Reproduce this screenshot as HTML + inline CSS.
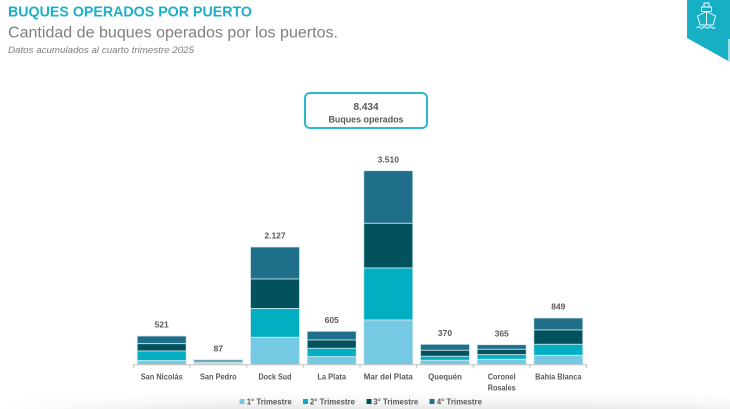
<!DOCTYPE html>
<html><head><meta charset="utf-8"><style>
html,body{margin:0;padding:0;background:#fff;}
svg{display:block;}
text{font-family:"Liberation Sans",sans-serif;}
</style></head><body>
<svg width="730" height="409" viewBox="0 0 730 409" xmlns="http://www.w3.org/2000/svg">
<defs>
<linearGradient id="sh" x1="0" y1="0" x2="0" y2="1">
<stop offset="0" stop-color="#ffffff" stop-opacity="0"/>
<stop offset="1" stop-color="#e8e8e8" stop-opacity="1"/>
</linearGradient>
<linearGradient id="shm" x1="0" y1="0" x2="1" y2="0">
<stop offset="0" stop-color="#fff" stop-opacity="0"/>
<stop offset="0.3" stop-color="#fff" stop-opacity="1"/>
<stop offset="0.8" stop-color="#fff" stop-opacity="1"/>
<stop offset="1" stop-color="#fff" stop-opacity="0.6"/>
</linearGradient>
<mask id="m"><rect x="0" y="388" width="730" height="21" fill="url(#shm)"/></mask>
</defs>
<rect x="0" y="0" width="730" height="409" fill="#fff"/>
<rect x="0" y="388" width="730" height="21" fill="url(#sh)" mask="url(#m)"/>

<!-- header -->
<text x="8" y="16.7" font-size="15" font-weight="bold" fill="#1AB0C8" textLength="244" lengthAdjust="spacingAndGlyphs">BUQUES OPERADOS POR PUERTO</text>
<text x="8" y="37.3" font-size="15.5" fill="#808080" textLength="330" lengthAdjust="spacingAndGlyphs">Cantidad de buques operados por los puertos.</text>
<text x="8" y="53" font-size="9" font-style="italic" fill="#7f7f7f" textLength="186" lengthAdjust="spacingAndGlyphs">Datos acumulados al cuarto trimestre 2025</text>

<!-- corner icon -->
<polygon points="687,0 730,0 730,62 687,38" fill="#17AFC4"/>
<line x1="729" y1="39" x2="729" y2="62" stroke="#fff" stroke-width="1.2"/>
<g stroke="#fff" stroke-width="0.9" fill="none" stroke-linecap="round" stroke-linejoin="round">
<rect x="704" y="3" width="5" height="4"/>
<rect x="701.5" y="7" width="10" height="4.5"/>
<path d="M697.5 16 L706.5 11.5 L715.5 16 L713 25 L700 25 Z"/>
<line x1="706.5" y1="11.5" x2="706.5" y2="25"/>
<path d="M697 27.5 q1.5 -1.5 3 0 q1.5 1.5 3 0 q1.5 -1.5 3 0 q1.5 1.5 3 0 q1.5 -1.5 3 0 q1.5 1.5 3 0"/>
</g>

<!-- total box -->
<rect x="305" y="93" width="122" height="35" rx="5" ry="5" fill="#fff" stroke="#2BB8CC" stroke-width="2"/>
<text x="366" y="110" font-size="10" font-weight="bold" fill="#595959" text-anchor="middle">8.434</text>
<text x="366" y="122.3" font-size="9" font-weight="bold" fill="#595959" text-anchor="middle" textLength="75" lengthAdjust="spacingAndGlyphs">Buques operados</text>

<!-- bars -->
<g stroke="#d4e8ee" stroke-width="0.8">
<!-- San Nicolás -->
<rect x="137.2" y="336" width="49" height="7.7" fill="#1F6F8B"/>
<rect x="137.2" y="343.7" width="49" height="7.3" fill="#02525D"/>
<rect x="137.2" y="351" width="49" height="9.7" fill="#01AEC2"/>
<rect x="137.2" y="360.7" width="49" height="3.8" fill="#76C9E2"/>
<!-- San Pedro -->
<rect x="193.8" y="359.7" width="49" height="1.5" fill="#1F6F8B"/>
<rect x="193.8" y="361.2" width="49" height="1.4" fill="#02525D"/>
<rect x="193.8" y="362.6" width="49" height="1" fill="#01AEC2"/>
<rect x="193.8" y="363.6" width="49" height="0.9" fill="#76C9E2"/>
<!-- Dock Sud -->
<rect x="250.5" y="247" width="49" height="32" fill="#1F6F8B"/>
<rect x="250.5" y="279" width="49" height="29.5" fill="#02525D"/>
<rect x="250.5" y="308.5" width="49" height="28.8" fill="#01AEC2"/>
<rect x="250.5" y="337.3" width="49" height="27.2" fill="#76C9E2"/>
<!-- La Plata -->
<rect x="307.2" y="331.3" width="49" height="8.7" fill="#1F6F8B"/>
<rect x="307.2" y="340" width="49" height="8.3" fill="#02525D"/>
<rect x="307.2" y="348.3" width="49" height="8.4" fill="#01AEC2"/>
<rect x="307.2" y="356.7" width="49" height="7.8" fill="#76C9E2"/>
<!-- Mar del Plata -->
<rect x="363.8" y="170.7" width="49" height="52.6" fill="#1F6F8B"/>
<rect x="363.8" y="223.3" width="49" height="44.7" fill="#02525D"/>
<rect x="363.8" y="268" width="49" height="52" fill="#01AEC2"/>
<rect x="363.8" y="320" width="49" height="44.5" fill="#76C9E2"/>
<!-- Quequén -->
<rect x="420.5" y="344.3" width="49" height="6" fill="#1F6F8B"/>
<rect x="420.5" y="350.3" width="49" height="6" fill="#02525D"/>
<rect x="420.5" y="356.3" width="49" height="4" fill="#01AEC2"/>
<rect x="420.5" y="360.3" width="49" height="4.2" fill="#76C9E2"/>
<!-- Coronel Rosales -->
<rect x="477.2" y="344.7" width="49" height="4.6" fill="#1F6F8B"/>
<rect x="477.2" y="349.3" width="49" height="5.4" fill="#02525D"/>
<rect x="477.2" y="354.7" width="49" height="4.6" fill="#01AEC2"/>
<rect x="477.2" y="359.3" width="49" height="5.2" fill="#76C9E2"/>
<!-- Bahía Blanca -->
<rect x="533.8" y="318" width="49" height="12" fill="#1F6F8B"/>
<rect x="533.8" y="330" width="49" height="14.3" fill="#02525D"/>
<rect x="533.8" y="344.3" width="49" height="11" fill="#01AEC2"/>
<rect x="533.8" y="355.3" width="49" height="9.2" fill="#76C9E2"/>
</g>

<!-- axis -->
<g stroke="#bfbfbf" stroke-width="1">
<line x1="133.3" y1="364.8" x2="586.7" y2="364.8"/>
<line x1="133.3" y1="364.8" x2="133.3" y2="368"/>
<line x1="190" y1="364.8" x2="190" y2="368"/>
<line x1="246.7" y1="364.8" x2="246.7" y2="368"/>
<line x1="303.3" y1="364.8" x2="303.3" y2="368"/>
<line x1="360" y1="364.8" x2="360" y2="368"/>
<line x1="416.7" y1="364.8" x2="416.7" y2="368"/>
<line x1="473.3" y1="364.8" x2="473.3" y2="368"/>
<line x1="530" y1="364.8" x2="530" y2="368"/>
<line x1="586.7" y1="364.8" x2="586.7" y2="368"/>
</g>

<!-- value labels -->
<g font-size="8.5" font-weight="bold" fill="#595959" text-anchor="middle">
<text x="161.7" y="327.5">521</text>
<text x="218.3" y="351.3">87</text>
<text x="275" y="238.7">2.127</text>
<text x="331.7" y="323">605</text>
<text x="388.3" y="162.3">3.510</text>
<text x="445" y="336">370</text>
<text x="501.7" y="336.3">365</text>
<text x="558.3" y="309.5">849</text>
</g>

<!-- category labels -->
<g font-size="8.5" font-weight="bold" fill="#595959" text-anchor="middle">
<text x="161.7" y="379.7" textLength="42" lengthAdjust="spacingAndGlyphs">San Nicolás</text>
<text x="218.3" y="379.7" textLength="36.7" lengthAdjust="spacingAndGlyphs">San Pedro</text>
<text x="275" y="379.7" textLength="33" lengthAdjust="spacingAndGlyphs">Dock Sud</text>
<text x="331.7" y="379.7" textLength="28.7" lengthAdjust="spacingAndGlyphs">La Plata</text>
<text x="388.3" y="379.7" textLength="49" lengthAdjust="spacingAndGlyphs">Mar del Plata</text>
<text x="445" y="379.7" textLength="33.7" lengthAdjust="spacingAndGlyphs">Quequén</text>
<text x="501.7" y="379.7" textLength="28" lengthAdjust="spacingAndGlyphs">Coronel</text>
<text x="501.7" y="390.3" textLength="28" lengthAdjust="spacingAndGlyphs">Rosales</text>
<text x="558.3" y="379.7" textLength="46.3" lengthAdjust="spacingAndGlyphs">Bahía Blanca</text>
</g>

<!-- legend -->
<rect x="239.5" y="399" width="5" height="5" fill="#76C9E2"/>
<rect x="303" y="399" width="5" height="5" fill="#01AEC2"/>
<rect x="366.5" y="399" width="5" height="5" fill="#02525D"/>
<rect x="429.5" y="399" width="5" height="5" fill="#1F6F8B"/>
<g font-size="8" font-weight="bold" fill="#595959">
<text x="246.7" y="404.5" textLength="45" lengthAdjust="spacingAndGlyphs">1° Trimestre</text>
<text x="310" y="404.5" textLength="45" lengthAdjust="spacingAndGlyphs">2° Trimestre</text>
<text x="373.3" y="404.5" textLength="45" lengthAdjust="spacingAndGlyphs">3° Trimestre</text>
<text x="436.7" y="404.5" textLength="45.3" lengthAdjust="spacingAndGlyphs">4° Trimestre</text>
</g>
</svg>
</body></html>
